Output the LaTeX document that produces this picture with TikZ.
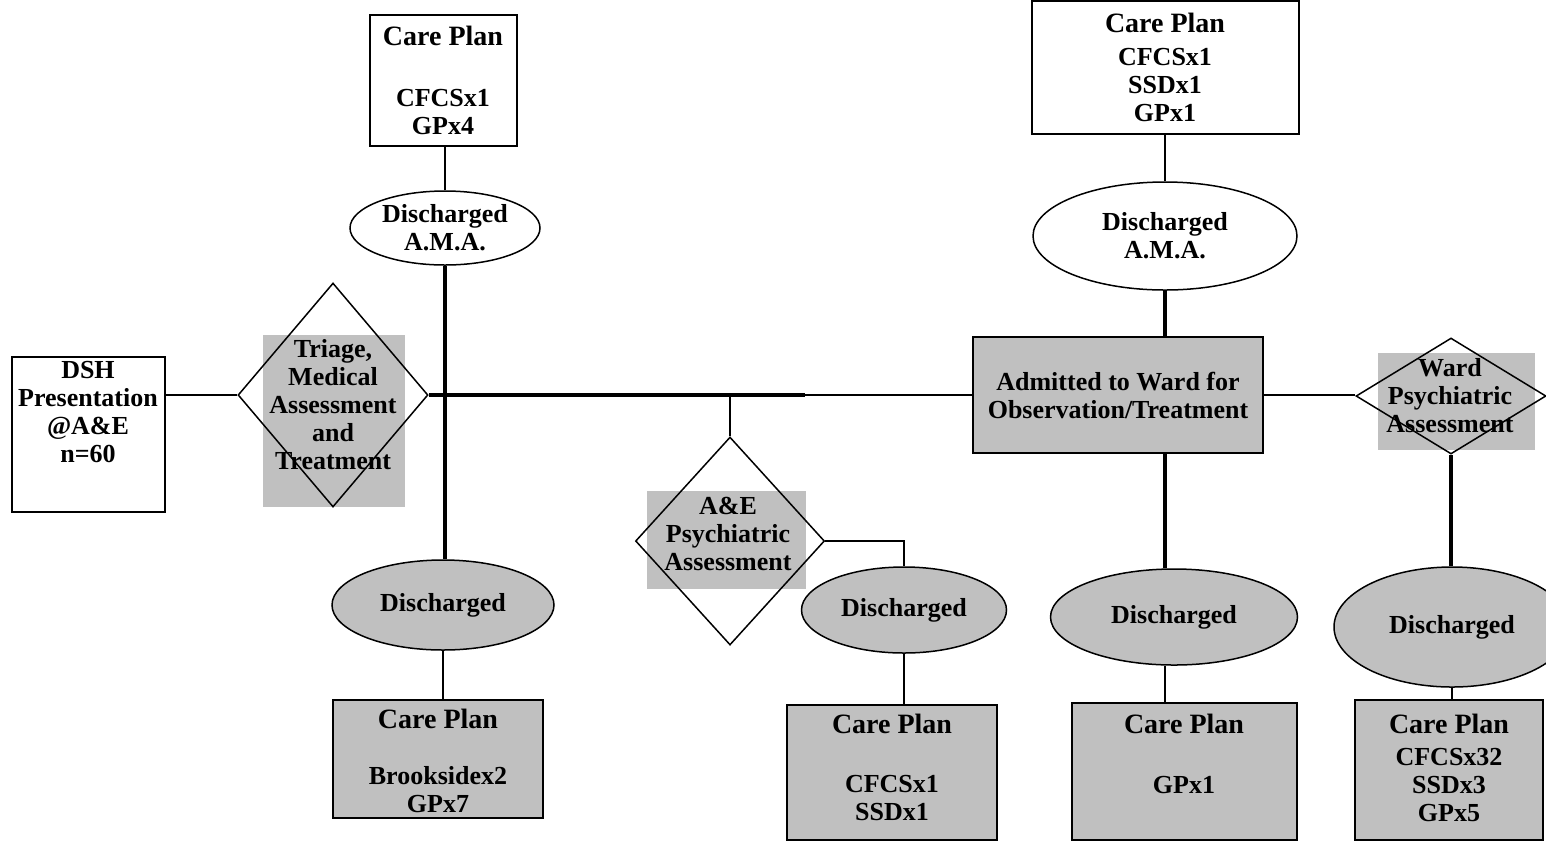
\documentclass[tikz,border=0pt]{standalone}
\usepackage{fontspec}
\setmainfont{Liberation Serif}
\usetikzlibrary{shapes.geometric, positioning}

\definecolor{boxgrey}{HTML}{C0C0C0}
\newcommand{\cphead}{\fontsize{14}{14}\selectfont}

\tikzset{
  txt/.style={align=center, inner sep=0pt, font=\fontsize{13}{14}\selectfont\bfseries},
  whitebox/.style={draw, fill=white, inner sep=0pt, line width=0.75pt},
  greybox/.style={whitebox, fill=boxgrey},
  oval/.style={ellipse, draw, fill=white, line width=0.75pt, txt},
  greyoval/.style={oval, fill=boxgrey},
  decision/.style={diamond, draw, inner sep=0pt, line width=0.75pt},
  conn/.style={line width=0.75pt},
  trunk/.style={line width=1.9pt}
}

\begin{document}
\begin{tikzpicture}[x=0.5pt,y=-0.5pt]
  \useasboundingbox (0,0) rectangle (1546,842);

  \fill[boxgrey] (263,335) rectangle (405,507);
  \fill[boxgrey] (647,491) rectangle (806,589);
  \fill[boxgrey] (1378,353) rectangle (1535,450);

  \node[whitebox, minimum width=76.5pt, minimum height=77.5pt] (dsh) at (88.5,434.5) {};
  \node[txt, anchor=north] (dshtxt) at (88,361) {DSH\\Presentation\\@A\&E\\n=60};

  \node[decision, minimum width=95pt, minimum height=112pt] (triage) at (333,395) {};
  \node[txt, anchor=north] (triagetxt) at (333,339) {Triage,\\Medical\\Assessment\\and\\Treatment};

  \node[whitebox, minimum width=73.5pt, minimum height=65.5pt] (cpA) at (443.5,80.5) {};
  \node[txt, anchor=north] (cpAtxt) at (443,25.5) {{\cphead Care Plan}\\[16.5pt]CFCSx1\\GPx4};
  \node[oval, minimum width=95pt, minimum height=37pt] (amaL) at (445,228) {Discharged\\A.M.A.};

  \node[greyoval, minimum width=111pt, minimum height=45pt] (disL) at (443,605) {Discharged};
  \node[greybox, minimum width=105pt, minimum height=59pt] (cpB) at (438,759) {};
  \node[txt, anchor=north] (cpBtxt) at (438,708.5) {{\cphead Care Plan}\\[14pt]Brooksidex2\\GPx7};

  \node[decision, minimum width=94.5pt, minimum height=104pt] (aeDia) at (730,541) {};
  \node[txt, anchor=north] (aetxt) at (728,497) {A\&E\\Psychiatric\\Assessment};
  \node[greyoval, minimum width=102.5pt, minimum height=43pt] (disM) at (904,610) {Discharged};
  \node[greybox, minimum width=105pt, minimum height=67.5pt] (cpC) at (892,772.5) {};
  \node[txt, anchor=north] (cpCtxt) at (892,713.5) {{\cphead Care Plan}\\[15.5pt]CFCSx1\\SSDx1};

  \node[greybox, txt, minimum width=145pt, minimum height=58pt] (admit) at (1118,395) {Admitted to Ward for\\Observation/Treatment};
  \node[whitebox, minimum width=133.5pt, minimum height=66.5pt] (cpD) at (1165.5,67.5) {};
  \node[txt, anchor=north] (cpDtxt) at (1165,12.5) {{\cphead Care Plan}\\[2.5pt]CFCSx1\\SSDx1\\GPx1};
  \node[oval, minimum width=132pt, minimum height=54pt] (amaR) at (1165,236) {Discharged\\A.M.A.};
  \node[greyoval, minimum width=123.5pt, minimum height=48pt] (disMR) at (1174,617) {Discharged};
  \node[greybox, minimum width=112.5pt, minimum height=68.5pt] (cpE) at (1184.5,771.5) {};
  \node[txt, anchor=north] (cpEtxt) at (1184,713.5) {{\cphead Care Plan}\\[16pt]GPx1};

  \node[decision, minimum width=95pt, minimum height=58pt] (ward) at (1451,396) {};
  \node[txt, anchor=north] (wardtxt) at (1450,358) {Ward\\Psychiatric\\Assessment};
  \node[greyoval, minimum width=118pt, minimum height=60pt] (disR) at (1452,627) {Discharged};
  \node[greybox, minimum width=94pt, minimum height=70pt] (cpF) at (1449,770) {};
  \node[txt, anchor=north] (cpFtxt) at (1449,713.5) {{\cphead Care Plan}\\[2pt]CFCSx32\\SSDx3\\GPx5};

  \coordinate (jA) at (805,395);

  \draw[conn] (triage.west) -- (triage.west -| dsh.east);
  \draw[trunk] (triage.east) -- (jA);
  \draw[conn] (jA) -- (admit.west);
  \draw[conn] (amaL.north) -- (amaL.north |- cpA.south);
  \draw[trunk] (amaL.south) -- (amaL.south |- disL.north);
  \draw[conn] (disL.south) -- (disL.south |- cpB.north);
  \draw[conn] (aeDia.north) -- (aeDia.north |- jA);
  \draw[conn] (aeDia.east) -| (disM.north);
  \draw[conn] (disM.south) -- (disM.south |- cpC.north);
  \draw[conn] (amaR.north) -- (amaR.north |- cpD.south);
  \draw[trunk] (amaR.south) -- (amaR.south |- admit.north);
  \draw[trunk] (amaR.south |- admit.south) -- (amaR.south |- disMR.north);
  \draw[conn] (amaR.south |- disMR.south) -- (amaR.south |- cpE.north);
  \draw[conn] (admit.east) -- (admit.east -| ward.west);
  \draw[trunk] (ward.south) -- (ward.south |- disR.north);
  \draw[conn] (disR.south) -- (disR.south |- cpF.north);
\end{tikzpicture}
\end{document}
